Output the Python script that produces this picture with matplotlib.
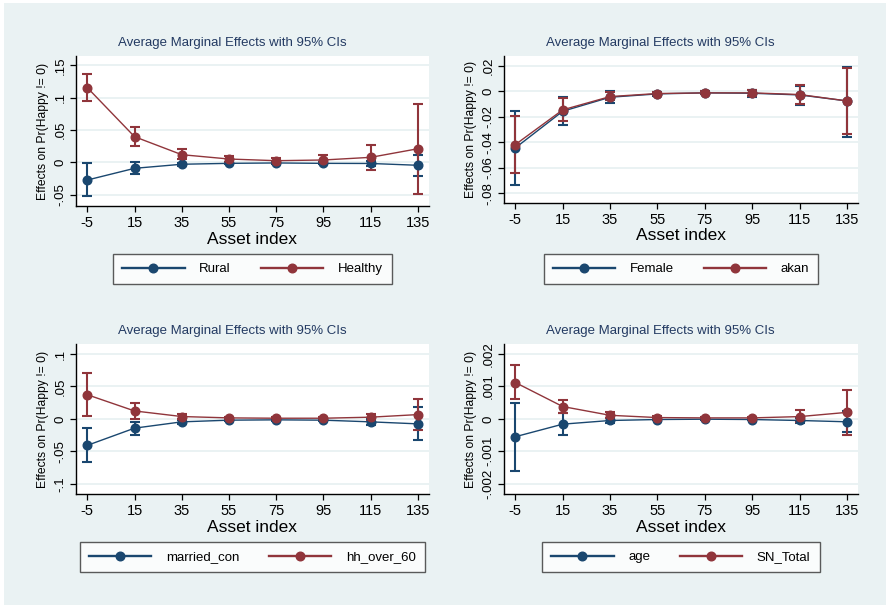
import matplotlib
matplotlib.use("Agg")
import matplotlib.pyplot as plt
from matplotlib.patches import Rectangle
from matplotlib.lines import Line2D
import numpy as np

plt.rcParams['font.family'] = ['Liberation Sans', 'DejaVu Sans']

# ---------------- data ----------------
asset_x = [-5, 15, 35, 55, 75, 95, 115, 135]
xtick_labels = ['-5', '15', '35', '55', '75', '95', '115', '135']

# Panel 1
rural_est = [-0.0274, -0.0093, -0.0030, -0.0016, -0.0010, -0.0016, -0.0018, -0.0046]
rural_lo = [-0.0520, -0.0186, -0.0055, -0.0030, -0.0022, -0.0030, -0.0055, -0.0212]
rural_hi = [-0.0015, 0.0010, -0.0005, -0.0002, 0.0002, -0.0002, 0.0018, 0.0118]
healthy_est = [0.1155, 0.0396, 0.0118, 0.0051, 0.0025, 0.0036, 0.0077, 0.0210]
healthy_lo = [0.0949, 0.0252, 0.0046, 0.0005, -0.0005, -0.0015, -0.0119, -0.0495]
healthy_hi = [0.1367, 0.0546, 0.0210, 0.0102, 0.0070, 0.0118, 0.0268, 0.0907]
p1_yticks = [-0.05, 0, 0.05, 0.1, 0.15]
p1_ylabels = ['-.05', '0', '.05', '.1', '.15']

# Panel 2
female_est = [-0.0444, -0.0157, -0.0047, -0.0021, -0.0013, -0.0016, -0.0029, -0.0076]
female_lo = [-0.0737, -0.0267, -0.0092, -0.0035, -0.0025, -0.0044, -0.0105, -0.0358]
female_hi = [-0.0154, -0.0044, 0.0000, -0.0007, -0.0001, 0.0013, 0.0044, 0.0191]
akan_est = [-0.0418, -0.0146, -0.0042, -0.0018, -0.0013, -0.0013, -0.0026, -0.0076]
akan_lo = [-0.0643, -0.0233, -0.0070, -0.0030, -0.0025, -0.0035, -0.0102, -0.0332]
akan_hi = [-0.0193, -0.0052, -0.0008, -0.0006, -0.0001, 0.0009, 0.0050, 0.0180]
p2_yticks = [-0.08, -0.06, -0.04, -0.02, 0, 0.02]
p2_ylabels = ['-.08', '-.06', '-.04', '-.02', '0', '.02']

# Panel 3
married_est = [-0.0408, -0.0143, -0.0046, -0.0020, -0.0015, -0.0020, -0.0046, -0.0077]
married_lo = [-0.0668, -0.0245, -0.0077, -0.0035, -0.0030, -0.0035, -0.0092, -0.0327]
married_hi = [-0.0143, -0.0041, -0.0015, -0.0005, 0.0000, -0.0005, 0.0005, 0.0179]
hh60_est = [0.0372, 0.0122, 0.0036, 0.0015, 0.0010, 0.0010, 0.0026, 0.0066]
hh60_lo = [0.0046, 0.0005, -0.0005, -0.0005, -0.0008, -0.0010, -0.0026, -0.0173]
hh60_hi = [0.0709, 0.0245, 0.0077, 0.0035, 0.0028, 0.0030, 0.0077, 0.0301]
p3_yticks = [-0.1, -0.05, 0, 0.05, 0.1]
p3_ylabels = ['-.1', '-.05', '0', '.05', '.1']

# Panel 4
age_est = [-0.00055, -0.000163, -0.00005, -0.00002, -0.00001, -0.00002, -0.00005, -0.00009]
age_lo = [-0.00162, -0.00051, -0.00013, -0.00005, -0.00004, -0.00005, -0.00013, -0.00042]
age_hi = [0.00050, 0.00017, 0.00003, 0.00001, 0.00002, 0.00001, 0.00003, 0.00024]
sn_est = [0.00112, 0.00038, 0.00011, 0.00004, 0.00003, 0.00003, 0.00007, 0.00020]
sn_lo = [0.00060, 0.00017, 0.00002, 0.00000, 0.00000, 0.00000, -0.00011, -0.00049]
sn_hi = [0.00165, 0.00059, 0.00020, 0.00008, 0.00006, 0.00007, 0.00026, 0.00089]
p4_yticks = [-0.002, -0.001, 0, 0.001, 0.002]
p4_ylabels = ['-.002', '-.001', '0', '.001', '.002']

title_text = 'Average Marginal Effects with 95% CIs'
xlabel_text = 'Asset index'
ylabel_text = 'Effects on Pr(Happy != 0)'

# ---------------- style ----------------
W, H = 886, 605
BLUE = '#1A476F'
RED = '#90353B'
BG = '#EAF2F3'
TITLE_C = '#233A62'

fig = plt.figure(figsize=(W / 100, H / 100), dpi=100)
fig.patch.set_facecolor('white')
fig.patches.append(Rectangle((4 / W, 0), 1 - 4 / W, 1 - 3 / H, transform=fig.transFigure,
                             facecolor=BG, edgecolor='none', zorder=-10))


def px_axes(l, t, r, b):
    return fig.add_axes([l / W, 1 - b / H, (r - l) / W, (b - t) / H])


panels = [
    dict(box=(76, 56, 429, 206), ylim=(-0.0676, 0.1645), yt=p1_yticks, yl=p1_ylabels,
         s1=('Rural', rural_est, rural_lo, rural_hi), s2=('Healthy', healthy_est, healthy_lo, healthy_hi),
         leg=(113, 392, 269)),
    dict(box=(504, 56, 858, 203), ylim=(-0.0876, 0.0276), yt=p2_yticks, yl=p2_ylabels,
         s1=('Female', female_est, female_lo, female_hi), s2=('akan', akan_est, akan_lo, akan_hi),
         leg=(543, 819, 269)),
    dict(box=(76, 344, 429, 494), ylim=(-0.1158, 0.1154), yt=p3_yticks, yl=p3_ylabels,
         s1=('married_con', married_est, married_lo, married_hi),
         s2=('hh_over_60', hh60_est, hh60_lo, hh60_hi),
         leg=(82, 423, 557)),
    dict(box=(504, 344, 858, 494), ylim=(-0.002316, 0.002308), yt=p4_yticks, yl=p4_ylabels,
         s1=('age', age_est, age_lo, age_hi), s2=('SN_Total', sn_est, sn_lo, sn_hi),
         leg=(542, 820, 557)),
]

for p in panels:
    l, t, r, b = p['box']
    ax = px_axes(l, t, r, b)
    ax.set_facecolor('white')
    ax.set_xlim(-9.8, 139.7)
    ax.set_ylim(*p['ylim'])
    for yv in p['yt']:
        ax.axhline(yv, color=BG, lw=1.4, zorder=0)
    xs = np.array(asset_x)
    # CIs first
    for (name, est, lo, hi), col in ((p['s1'], BLUE), (p['s2'], RED)):
        est = np.array(est); lo = np.array(lo); hi = np.array(hi)
        ax.errorbar(xs, est, yerr=[est - lo, hi - est], fmt='none', ecolor=col,
                    elinewidth=1.5, capsize=3.3, capthick=1.5, zorder=2)
    handles = []
    for (name, est, lo, hi), col in ((p['s1'], BLUE), (p['s2'], RED)):
        ax.plot(xs, est, color=col, lw=1.0, marker='o', markersize=6.2,
                markeredgecolor=col, markerfacecolor=col, zorder=3)
        handles.append(Line2D([], [], color=col, lw=1.7, marker='o', markersize=6.2,
                              markeredgecolor=col, markerfacecolor=col))
    for sp in ('top', 'right'):
        ax.spines[sp].set_visible(False)
    for sp in ('left', 'bottom'):
        ax.spines[sp].set_linewidth(1.0)
        ax.spines[sp].set_color('black')
    ax.set_xticks(asset_x)
    ax.set_xticklabels(xtick_labels, fontsize=10.5)
    ax.set_yticks(p['yt'])
    ax.set_yticklabels(p['yl'], fontsize=9.5, rotation=90, va='center')
    ax.tick_params(axis='both', direction='out', length=4.5, width=0.9, color='black')
    ax.tick_params(axis='x', pad=2.5)
    ax.tick_params(axis='y', pad=2.5)
    cx = (l + r) / 2
    cy = (t + b) / 2
    # axis labels and title
    fig.text(cx / W, 1 - (b + 33) / H, xlabel_text, ha='center', va='center', fontsize=12.5)
    fig.text((l - 33) / W, 1 - cy / H, ylabel_text, ha='center', va='center', rotation=90,
             fontsize=8.7)
    fig.text((cx - 20.5) / W, 1 - (t - 13) / H, title_text, ha='center', va='center',
             fontsize=9.5, color=TITLE_C)
    # legend
    ll, lr, ly = p['leg']
    leg = ax.legend(handles, [p['s1'][0], p['s2'][0]], ncol=2, loc='center',
                    bbox_to_anchor=(((ll + lr) / 2) / W, 1 - ly / H), bbox_transform=fig.transFigure,
                    fontsize=9.5, frameon=True, fancybox=False, handlelength=4.7,
                    handletextpad=1.1, columnspacing=2.3, borderpad=0.7, borderaxespad=0)
    fr = leg.get_frame()
    fr.set_edgecolor('#333333')
    fr.set_linewidth(1.0)
    fr.set_facecolor('white')

fig.savefig('out.png', dpi=100, facecolor=fig.get_facecolor())
